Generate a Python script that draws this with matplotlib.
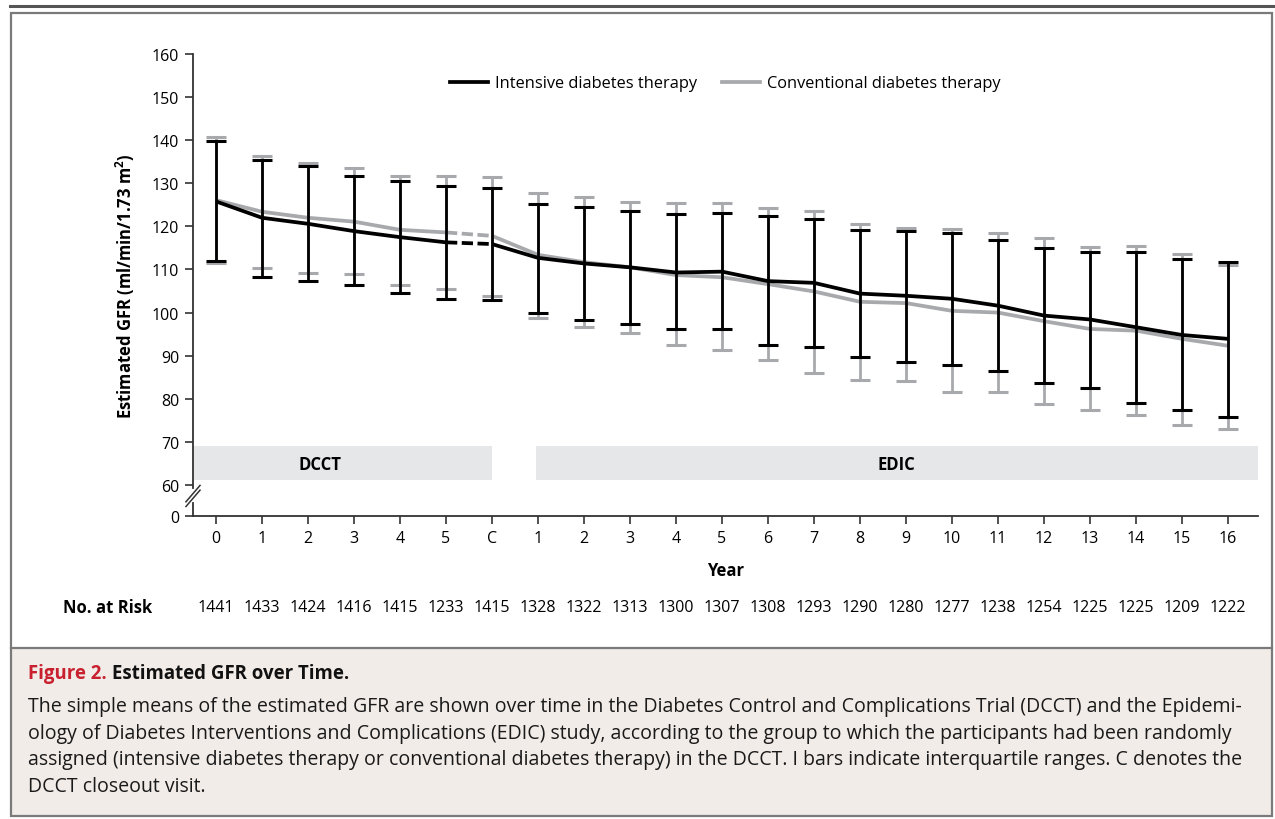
import matplotlib
matplotlib.use("Agg")
import matplotlib.pyplot as plt
from matplotlib.patches import Rectangle
from matplotlib.lines import Line2D
import matplotlib.transforms as mtransforms

plt.rcParams['font.family'] = ['Open Sans', 'DejaVu Sans']

# tick labels of the x axis (DCCT years, closeout, EDIC years)
x_labels = ['0', '1', '2', '3', '4', '5', 'C', '1', '2', '3', '4', '5', '6', '7',
            '8', '9', '10', '11', '12', '13', '14', '15', '16']
at_risk = [1441, 1433, 1424, 1416, 1415, 1233, 1415, 1328, 1322, 1313, 1300, 1307,
           1308, 1293, 1290, 1280, 1277, 1238, 1254, 1225, 1225, 1209, 1222]

# intensive therapy: mean, 25th and 75th percentile
int_mean = [125.8, 122.0, 120.6, 118.9, 117.5, 116.3, 115.9, 112.7, 111.4, 110.5, 109.3, 109.5,
            107.3, 106.9, 104.4, 103.9, 103.2, 101.6, 99.3, 98.4, 96.6, 94.8, 93.9]
int_low = [112.0, 108.3, 107.3, 106.3, 104.5, 103.2, 103.0, 99.9, 98.3, 97.3, 96.1, 96.3,
           92.4, 92.1, 89.8, 88.6, 87.8, 86.4, 83.6, 82.6, 79.1, 77.4, 75.7]
int_high = [139.7, 135.4, 134.0, 131.7, 130.5, 129.4, 129.0, 125.3, 124.5, 123.6, 122.9, 123.0,
            122.4, 121.6, 119.2, 118.9, 118.5, 116.8, 115.1, 114.0, 114.1, 112.4, 111.7]

# conventional therapy
conv_mean = [126.1, 123.4, 122.0, 121.1, 119.2, 118.6, 117.8, 113.4, 111.7, 110.5, 108.7, 108.2,
             106.6, 104.9, 102.5, 102.2, 100.4, 100.0, 98.0, 96.2, 95.8, 93.9, 92.3]
conv_low = [111.5, 110.3, 109.2, 108.9, 106.3, 105.5, 103.9, 98.7, 96.6, 95.2, 92.4, 91.3,
            89.0, 85.9, 84.3, 84.1, 81.6, 81.6, 78.7, 77.4, 76.2, 73.9, 73.0]
conv_high = [140.7, 136.4, 134.6, 133.5, 131.8, 131.8, 131.5, 127.7, 126.8, 125.6, 125.4, 125.4,
             124.3, 123.5, 120.6, 119.7, 119.3, 118.5, 117.2, 115.3, 115.5, 113.5, 111.0]

BLACK = '#000000'
GRAY = '#a7a9ac'
BAND = '#e6e7e8'
FS = 11.5
FSB = 12

x = list(range(len(x_labels)))

fig = plt.figure(figsize=(12.75, 8.2), dpi=100)

# outer frame, caption panel
fig.add_artist(Line2D([10 / 1275, 1.0], [1 - 7 / 820, 1 - 7 / 820], color='#555555', lw=2.2))
fig.add_artist(Rectangle((11 / 1275, 3 / 820), 1261 / 1275, 168 / 820, facecolor='#f2ece8',
                         edgecolor='none'))
fig.add_artist(Rectangle((11 / 1275, 3 / 820), 1261 / 1275, 803 / 820, facecolor='none',
                         edgecolor='#7a7a7a', lw=1.6))
fig.add_artist(Line2D([11 / 1275, 1272 / 1275], [1 - 649 / 820, 1 - 649 / 820], color='#7a7a7a', lw=1.6))

ax = fig.add_axes([193 / 1275, 1 - 517 / 820, 1065 / 1275, 462 / 820])
ax.set_xlim(-0.5, 22.65)
ax.set_ylim(52.8, 160)

# study period bands
ax.add_patch(Rectangle((-0.5, 61.2), 6.5, 7.85, facecolor=BAND, edgecolor='none', zorder=0))
ax.add_patch(Rectangle((6.95, 61.2), 15.7, 7.85, facecolor=BAND, edgecolor='none', zorder=0))
ax.text(2.26, 64.8, 'DCCT', ha='center', va='center', fontsize=FSB, fontweight='bold')
ax.text(14.8, 64.8, 'EDIC', ha='center', va='center', fontsize=FSB, fontweight='bold')

# error bars (interquartile ranges)
conv_err = [[m - lo for m, lo in zip(conv_mean, conv_low)], [hi - m for m, hi in zip(conv_mean, conv_high)]]
int_err = [[m - lo for m, lo in zip(int_mean, int_low)], [hi - m for m, hi in zip(int_mean, int_high)]]
ax.errorbar(x, conv_mean, yerr=conv_err, fmt='none', ecolor=GRAY, elinewidth=2.0,
            capsize=7, capthick=2.2, zorder=2)
ax.errorbar(x, int_mean, yerr=int_err, fmt='none', ecolor=BLACK, elinewidth=2.0,
            capsize=7, capthick=2.2, zorder=4)

# lines: solid in DCCT and EDIC, dashed from year 5 to closeout
for means, color, z in [(conv_mean, GRAY, 3), (int_mean, BLACK, 5)]:
    ax.plot(x[:6], means[:6], color=color, lw=2.7, zorder=z, solid_capstyle='butt')
    ax.plot(x[5:7], means[5:7], color=color, lw=2.7, zorder=z, linestyle=(0, (3, 1.2)))
    ax.plot(x[6:], means[6:], color=color, lw=2.7, zorder=z, solid_capstyle='butt')

handles = [Line2D([], [], color=BLACK, lw=2.7), Line2D([], [], color=GRAY, lw=2.7)]
ax.legend(handles, ['Intensive diabetes therapy', 'Conventional diabetes therapy'],
          loc='center', bbox_to_anchor=(0.5, 1 - 29.5 / 462), ncol=2, frameon=False,
          fontsize=11.8, handlelength=2.3, columnspacing=1.5, handletextpad=0.45)

# axes styling
for side in ['top', 'right', 'left']:
    ax.spines[side].set_visible(False)
ax.spines['bottom'].set_color('#333333')
ax.spines['bottom'].set_linewidth(1.3)
ax.set_xticks(x)
ax.set_xticklabels(x_labels, fontsize=FS)
yt = [52.8] + list(range(60, 161, 10))
ax.set_yticks(yt)
ax.set_yticklabels(['0'] + [str(v) for v in range(60, 161, 10)], fontsize=FS)
ax.tick_params(axis='both', color='#333333', width=1.2, length=6, pad=4)

# left axis with break marks
trans = mtransforms.blended_transform_factory(ax.transAxes, ax.transData)
ax.plot([0, 0], [59.3, 160], color='#333333', lw=1.3, transform=trans, clip_on=False)
ax.plot([0, 0], [52.8, 55.9], color='#333333', lw=1.3, transform=trans, clip_on=False)
for off in [0.0, 1.1]:
    ax.plot([-0.0066, 0.0066], [55.0 + off, 58.8 + off], color='#333333', lw=1.1,
            transform=trans, clip_on=False)

ax.set_ylabel('Estimated GFR (ml/min/1.73 m$^\\mathregular{2}$)', fontsize=FSB, fontweight='bold')
ax.yaxis.set_label_coords(-56 / 1065, 0.5)

# year label and number at risk
fig.text(0.5 * (193 + 1258) / 1275, 1 - 571 / 820, 'Year', ha='center', va='center',
         fontsize=FSB, fontweight='bold')
risk_trans = mtransforms.blended_transform_factory(ax.transData, fig.transFigure)
fig.text(108 / 1275, 1 - 608 / 820, 'No. at Risk', ha='center', va='center',
         fontsize=FSB, fontweight='bold')
for xi, n in zip(x, at_risk):
    ax.text(xi, 1 - 608 / 820, str(n), ha='center', va='center', fontsize=FS,
            transform=risk_trans, clip_on=False)

# caption
cap_x = 28 / 1275
t1 = fig.text(cap_x, 1 - 674 / 820, 'Figure 2.', color='#c8202f', fontsize=13.4,
              fontweight='bold', va='center')
fig.canvas.draw()
bb = t1.get_window_extent()
fig.text(bb.x1 / fig.bbox.width + 5 / 1275, 1 - 674 / 820, 'Estimated GFR over Time.',
         color='#111111', fontsize=13.4, fontweight='bold', va='center')
caption_lines = [
    'The simple means of the estimated GFR are shown over time in the Diabetes Control and '
    'Complications Trial (DCCT) and the Epidemi-',
    'ology of Diabetes Interventions and Complications (EDIC) study, according to the group '
    'to which the participants had been randomly',
    'assigned (intensive diabetes therapy or conventional diabetes therapy) in the DCCT. '
    'I bars indicate interquartile ranges. C denotes the',
    'DCCT closeout visit.',
]
for i, line in enumerate(caption_lines):
    fig.text(cap_x, 1 - (707 + 26.6 * i) / 820, line, color='#1a1a1a', fontsize=14.05, va='center')

fig.savefig('out.png', dpi=100)
